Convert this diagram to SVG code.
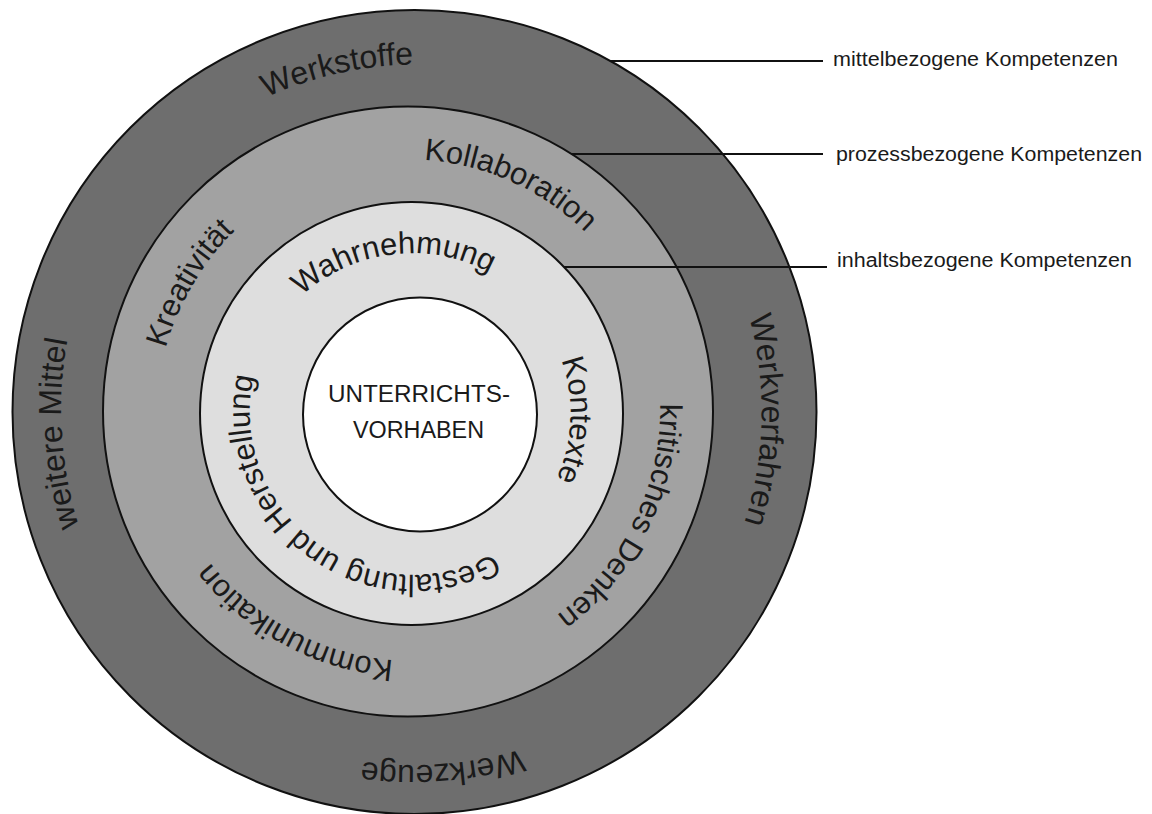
<svg xmlns="http://www.w3.org/2000/svg" width="1152" height="814" viewBox="0 0 1152 814">
  <style>
    .ring { stroke: #111; stroke-width: 2; }
    .rt { font-family: "Liberation Sans", Arial, sans-serif; font-size: 31px; fill: #1a1a1a; }
    .ot { font-family: "Liberation Sans", Arial, sans-serif; font-size: 32px; fill: #1a1a1a; }
    .lbl { font-family: "Liberation Sans", Arial, sans-serif; font-size: 20px; fill: #1a1a1a; }
    .ctr { font-family: "Liberation Sans", Arial, sans-serif; font-size: 23px; fill: #1a1a1a; text-anchor: middle; }
    .conn { stroke: #111; stroke-width: 2; fill: none; }
  </style>
  <defs>
    <path id="p-werkstoffe" d="M490.8,750.5 A347,347 0 1 1 338.2,73.5 A347,347 0 1 1 490.8,750.5"/>
    <path id="p-werkverfahren" d="M67.6,404.1 A347,347 0 1 1 761.4,419.9 A347,347 0 1 1 67.6,404.1"/>
    <path id="p-weitere" d="M766.8,390.4 A353,353 0 1 1 62.2,433.6 A353,353 0 1 1 766.8,390.4"/>
    <path id="p-werkzeuge" d="M386.8,60.1 A353,353 0 1 1 442.2,763.9 A353,353 0 1 1 386.8,60.1"/>
    <path id="p-kollaboration" d="M304.7,641.4 A252,252 0 1 1 511.3,181.6 A252,252 0 1 1 304.7,641.4"/>
    <path id="p-kreativitaet" d="M623.2,537.7 A249.5,249.5 0 1 1 192.8,285.3 A249.5,249.5 0 1 1 623.2,537.7"/>
    <path id="p-kritisch" d="M182.6,301.1 A251,251 0 1 1 633.4,521.9 A251,251 0 1 1 182.6,301.1"/>
    <path id="p-kommunikation" d="M524.2,193.0 A247.5,247.5 0 1 1 291.8,630.0 A247.5,247.5 0 1 1 524.2,193.0"/>
    <path id="p-wahrnehmung" d="M431.0,572.3 A160,160 0 1 1 392.0,254.7 A160,160 0 1 1 431.0,572.3"/>
    <path id="p-kontexte" d="M252.6,407.0 A159,159 0 1 1 570.4,420.0 A159,159 0 1 1 252.6,407.0"/>
    <path id="p-gestaltung" d="M506.4,284.7 A160,160 0 1 1 316.6,542.3 A160,160 0 1 1 506.4,284.7"/>
  </defs>

  <rect x="0" y="0" width="1152" height="814" fill="#ffffff"/>

  <g id="ring-mittel">
    <circle class="ring" cx="414.5" cy="412" r="402" fill="#6e6e6e"/>
    <text class="ot"><textPath href="#p-werkstoffe" startOffset="50%" text-anchor="middle">Werkstoffe</textPath></text>
    <text class="ot"><textPath href="#p-werkverfahren" startOffset="50%" text-anchor="middle">Werkverfahren</textPath></text>
    <text class="ot"><textPath href="#p-weitere" startOffset="50%" text-anchor="middle">weitere Mittel</textPath></text>
    <text class="ot"><textPath href="#p-werkzeuge" startOffset="50%" text-anchor="middle">Werkzeuge</textPath></text>
  </g>

  <g id="ring-prozess">
    <circle class="ring" cx="408" cy="411.5" r="305" fill="#a2a2a2"/>
    <text class="rt"><textPath href="#p-kollaboration" startOffset="50%" text-anchor="middle">Kollaboration</textPath></text>
    <text class="rt"><textPath href="#p-kreativitaet" startOffset="50%" text-anchor="middle">Kreativität</textPath></text>
    <text class="rt"><textPath href="#p-kritisch" startOffset="50%" text-anchor="middle">kritisches Denken</textPath></text>
    <text class="rt"><textPath href="#p-kommunikation" startOffset="50%" text-anchor="middle">Kommunikation</textPath></text>
  </g>

  <g id="ring-inhalt">
    <circle class="ring" cx="411.5" cy="413.5" r="211.5" fill="#dedede"/>
    <text class="rt"><textPath href="#p-wahrnehmung" startOffset="50%" text-anchor="middle">Wahrnehmung</textPath></text>
    <text class="rt"><textPath href="#p-kontexte" startOffset="50%" text-anchor="middle">Kontexte</textPath></text>
    <text class="rt"><textPath href="#p-gestaltung" startOffset="50%" text-anchor="middle">Gestaltung und Herstellung</textPath></text>
  </g>

  <g id="center-node">
    <circle class="ring" cx="420" cy="414.5" r="117" fill="#ffffff"/>
    <text class="ctr" x="419" y="402" textLength="182" lengthAdjust="spacingAndGlyphs">UNTERRICHTS-</text>
    <text class="ctr" x="418.5" y="438" textLength="131" lengthAdjust="spacingAndGlyphs">VORHABEN</text>
  </g>

  <g id="connectors">
    <line class="conn" x1="610" y1="61" x2="823" y2="61"/>
    <line class="conn" x1="571" y1="154" x2="823" y2="154"/>
    <line class="conn" x1="564" y1="267" x2="827" y2="267"/>
  </g>

  <g id="labels">
    <text id="label-mittel" class="lbl" x="833" y="66" textLength="285" lengthAdjust="spacingAndGlyphs">mittelbezogene Kompetenzen</text>
    <text id="label-prozess" class="lbl" x="836" y="161" textLength="306" lengthAdjust="spacingAndGlyphs">prozessbezogene Kompetenzen</text>
    <text id="label-inhalt" class="lbl" x="837" y="267" textLength="295" lengthAdjust="spacingAndGlyphs">inhaltsbezogene Kompetenzen</text>
  </g>
</svg>
